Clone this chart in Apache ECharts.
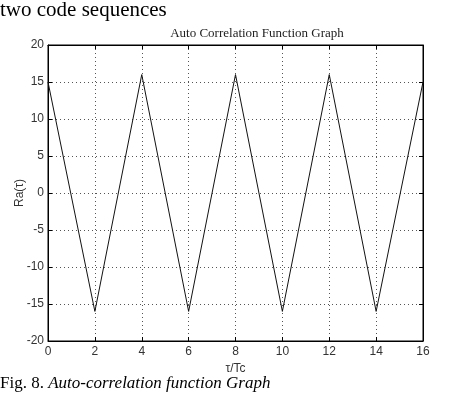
<!DOCTYPE html>
<html><head><meta charset="utf-8">
<script src="https://cdn.jsdelivr.net/npm/echarts@6/dist/echarts.min.js"></script>
<style>html,body{margin:0;padding:0;background:#fff}#c{width:449px;height:399px}</style>
</head><body><div id="c"></div>
<script>
const tau = [0, 2, 4, 6, 8, 10, 12, 14, 16];
const ra = [15, -16, 16, -16, 16, -16, 16, -16, 15];
const xTicks = [0, 2, 4, 6, 8, 10, 12, 14, 16];
const yTicks = [-20, -15, -10, -5, 0, 5, 10, 15, 20];

const chart = echarts.init(document.getElementById('c'), null, {renderer: 'canvas'});
const axisFont = {fontFamily: 'Liberation Sans, Arial, sans-serif', fontSize: 12, color: '#333'};
const split = {show: true, lineStyle: {type: [1, 3], color: '#555', width: 1}};
const line = {show: true, onZero: false, lineStyle: {color: '#000'}};
const tick = {show: true, inside: true, length: 4, lineStyle: {color: '#000'}};
chart.setOption({
  animation: false,
  backgroundColor: '#fff',
  title: {
    text: 'Auto Correlation Function Graph',
    left: 252, top: 22, textAlign: 'center',
    textStyle: {fontFamily: 'Liberation Serif, Times New Roman, serif', fontSize: 13, fontWeight: 'normal', color: '#222'}
  },
  graphic: [
    {type: 'text', left: 0, top: 0, style: {text: 'two code sequences', font: '21px "Liberation Serif", serif', fill: '#000'}},
    {type: 'text', left: 0, top: 375, style: {
      text: '{n|Fig. 8. }{i|Auto-correlation function Graph}',
      rich: {
        n: {fontFamily: 'Liberation Serif, serif', fontSize: 17, color: '#000'},
        i: {fontFamily: 'Liberation Serif, serif', fontSize: 17, fontStyle: 'italic', color: '#000'}
      }
    }}
  ],
  grid: {left: 48, right: 26, top: 45, bottom: 58, show: true, borderColor: '#000', borderWidth: 1,
         containLabel: false, outerBoundsMode: 'none'},
  xAxis: [{
    type: 'value', min: xTicks[0], max: xTicks[xTicks.length - 1], interval: 2,
    name: 'τ/Tc', nameLocation: 'middle', nameGap: 22,
    nameTextStyle: axisFont,
    axisLine: line, axisTick: tick,
    axisLabel: Object.assign({margin: 5}, axisFont),
    splitLine: split
  }, {
    type: 'value', position: 'top', min: 0, max: 16, interval: 2,
    axisLine: line, axisTick: tick,
    axisLabel: {show: false}, splitLine: {show: false}
  }],
  yAxis: [{
    type: 'value', min: yTicks[0], max: yTicks[yTicks.length - 1], interval: 5,
    name: 'Ra(τ)', nameLocation: 'middle', nameGap: 22, nameMoveOverlap: false,
    nameTextStyle: axisFont,
    axisLine: line, axisTick: tick,
    axisLabel: Object.assign({margin: 4}, axisFont),
    splitLine: split
  }, {
    type: 'value', position: 'right', min: -20, max: 20, interval: 5,
    axisLine: line, axisTick: tick,
    axisLabel: {show: false}, splitLine: {show: false}
  }],
  series: [{
    type: 'line',
    data: tau.map((t, i) => [t, ra[i]]),
    showSymbol: false, symbol: 'none',
    lineStyle: {color: '#111', width: 1},
    clip: false
  }]
});
</script></body></html>
